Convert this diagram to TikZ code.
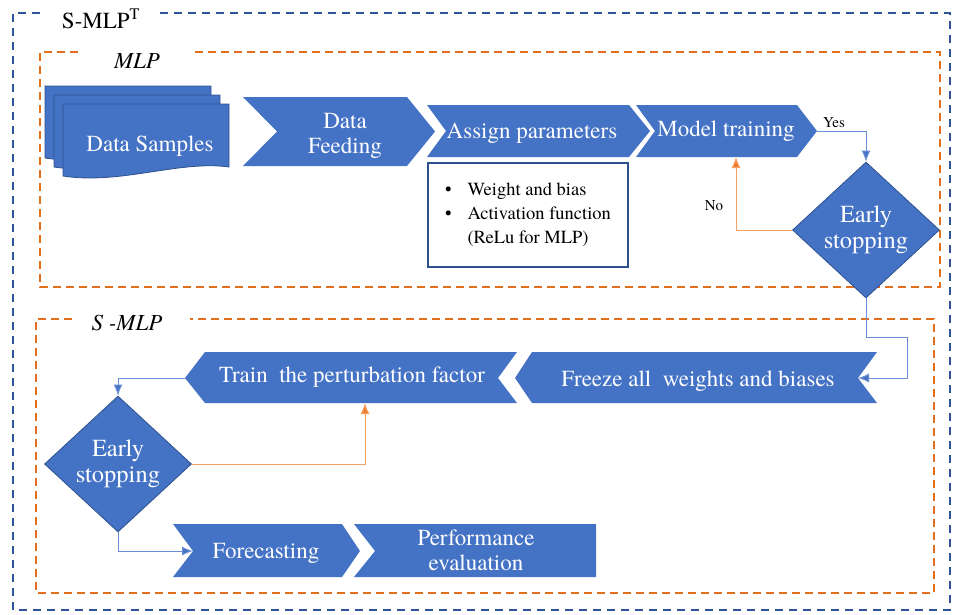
\documentclass[tikz,border=0pt]{standalone}
\usepackage{fontspec}
\setmainfont{texgyretermes-regular.otf}[
    BoldFont=texgyretermes-bold.otf,
    ItalicFont=texgyretermes-italic.otf,
    BoldItalicFont=texgyretermes-bolditalic.otf]
\usetikzlibrary{shapes.geometric,arrows.meta}
\definecolor{boxblue}{HTML}{4472C4}
\definecolor{edgeblue}{HTML}{2F528F}
\definecolor{lineblue}{HTML}{6A8FD6}
\definecolor{outerblue}{HTML}{2E5597}
\definecolor{dashorange}{HTML}{E0701E}
\definecolor{lineorange}{HTML}{F4A060}
\definecolor{tiporange}{HTML}{ED7D31}

\begin{document}
\begin{tikzpicture}[x=1pt,y=-1pt,>={Latex[length=11pt,width=9pt]},
    blk/.style={fill=boxblue},
    doc/.style={fill=boxblue,draw=edgeblue,line width=0.8pt},
    txt/.style={text=white,font=\fontsize{23}{25}\selectfont,align=center,inner sep=0pt},
    decide/.style={diamond,fill=boxblue,draw=edgeblue,line width=0.8pt,minimum width=147pt,minimum height=136pt,inner sep=0pt,text=white,font=\fontsize{24.5}{26}\selectfont,align=center},
    link/.style={draw=lineblue,line width=1pt,-{Latex[length=11pt,width=9pt,fill=boxblue]}},
    back/.style={draw=lineorange,line width=1pt,-{Latex[length=11pt,width=9pt,fill=tiporange]}},
    frame/.style={draw=dashorange,line width=1.8pt,dash pattern=on 8pt off 5pt},
    outer/.style={draw=outerblue,line width=1.6pt,dash pattern=on 8pt off 6pt}]
    \useasboundingbox (0,0) rectangle (953,614);

    % frames
    \draw[outer] (40,13) -- (13,13) -- (13,610) -- (950,610) -- (950,13) -- (157,13);
    \node[font=\fontsize{23}{25}\selectfont] (smlpt) at (101,19) {S-MLP\textsuperscript{T}};
    \draw[frame] (78,52) -- (40,52) -- (40,287) -- (940,287) -- (940,52) -- (195,52);
    \node[font=\fontsize{23}{25}\selectfont\itshape] (mlp) at (137,61) {MLP};
    \draw[frame] (72,319) -- (36,319) -- (36,593) -- (934,593) -- (934,319) -- (190,319);
    \node[font=\fontsize{23}{25}\selectfont\itshape] (smlp) at (127,323) {S -MLP};

    % stacked pages
    \foreach \d in {0,9,18}
        \filldraw[doc] ({45+\d},{86+\d}) -- ({211+\d},{86+\d}) -- ({211+\d},{149+\d})
            .. controls ({162+\d},{142+\d}) and ({102+\d},{167+\d}) .. ({45+\d},{158+\d}) -- cycle;

    % arrow shapes
    \fill[blk] (243,97) -- (407,97) -- (435,131.5) -- (407,166) -- (243,166) -- (277,131.5) -- cycle;
    \fill[blk] (427,105) -- (629,105) -- (650,131) -- (629,157) -- (427,157) -- (446,131) -- cycle;
    \fill[blk] (636,105) -- (797,105) -- (817,131) -- (797,157) -- (636,157) -- (655,131) -- cycle;
    \fill[blk] (185,378) -- (205,352) -- (517,352) -- (498,378) -- (517,403) -- (205,403) -- cycle;
    \fill[blk] (515,378) -- (532,352) -- (877,352) -- (858,378) -- (877,403) -- (532,403) -- cycle;
    \fill[blk] (173,524) -- (342,524) -- (360,551) -- (342,577) -- (173,577) -- (193,551) -- cycle;
    \fill[blk] (354,524) -- (596,524) -- (596,577) -- (354,577) -- (375,551) -- cycle;

    \node[txt] (samples) at (150,146) {Data Samples};
    \node[txt] (feed) at (345,136) {Data\\Feeding};
    \node[txt] (assign) at (532,133) {Assign parameters};
    \node[txt] (mtrain) at (726,131) {Model training};
    \node[txt] (perturb) at (352,377) {Train\enspace the perturbation factor};
    \node[txt] (freeze) at (698,381) {Freeze all\enspace weights and biases};
    \node[txt] (fcast) at (266,553) {Forecasting};
    \node[txt] (perf) at (476,550) {Performance\\evaluation};
    \node[decide] (stop1) at (866,230) {Early\\stopping};
    \node[decide] (stop2) at (118,464) {Early\\stopping};

    \node[draw=edgeblue,line width=1.2pt,minimum width=200pt,minimum height=104pt,
        font=\fontsize{18.5}{24}\selectfont] (params) at (528,215)
        {\begin{tabular}{@{}l@{\hspace{16pt}}l@{}}
            \textbullet & Weight and bias\\
            \textbullet & Activation function\\
             & (ReLu for MLP)
        \end{tabular}};

    % connectors
    \coordinate (mtip) at (817,131);
    \coordinate (mbase) at (736,157);
    \coordinate (bend) at (907,337);
    \coordinate (fnotch) at (858,378);
    \coordinate (ptip) at (185,378);
    \coordinate (pbase) at (365,403);
    \coordinate (fcnotch) at (193,551);

    \draw[link] (mtip) -| (stop1.north);
    \node[font=\fontsize{15}{17}\selectfont] (yes) at (834,123) {Yes};
    \draw[back] (stop1.west) -| (mbase);
    \node[font=\fontsize{15}{17}\selectfont] (no) at (714,206) {No};
    \draw[link] (stop1.south) |- (bend) |- (fnotch);
    \draw[link] (ptip) -| (stop2.north);
    \draw[back] (stop2.east) -| (pbase);
    \draw[link] (stop2.south) |- (fcnotch);
\end{tikzpicture}
\end{document}
